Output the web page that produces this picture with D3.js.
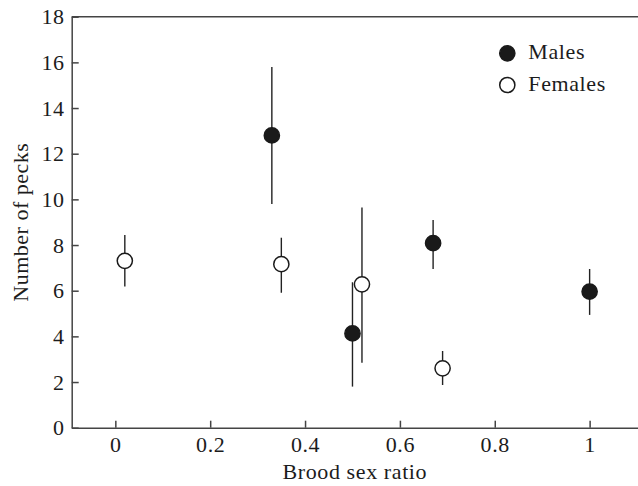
<!DOCTYPE html>
<html>
<head>
<meta charset="utf-8">
<script src="https://cdn.jsdelivr.net/npm/d3@7"></script>
<style>
  body { margin: 0; background: #fff; }
  svg { display: block; }
  text { font-family: "Liberation Serif", "Times New Roman", serif; fill: #1c1c1c; }
  .axis path, .axis line { stroke: #444; stroke-width: 1.5; }
  .axis text { font-size: 22px; letter-spacing: 0.6px; }
</style>
</head>
<body>
<svg width="638" height="486"></svg>
<script>
// values
const maleX = [0.33, 0.5, 0.67, 1.0];
const maleY = [12.8, 4.13, 8.08, 5.96];
const maleLo = [9.8, 1.8, 6.95, 4.94];
const maleHi = [15.8, 6.37, 9.1, 6.95];

const femaleX = [0.02, 0.35, 0.52, 0.69];
const femaleY = [7.31, 7.16, 6.28, 2.6];
const femaleLo = [6.18, 5.91, 2.85, 1.87];
const femaleHi = [8.44, 8.32, 9.64, 3.36];

const xTicks = [0, 0.2, 0.4, 0.6, 0.8, 1];
const yTicks = [0, 2, 4, 6, 8, 10, 12, 14, 16, 18];
const legendNames = ['Males', 'Females'];

const mLeft = 71.7, mRight = 638, mTop = 16.7, mBottom = 427.7;

const svg = d3.select('svg');

const x = d3.scaleLinear()
  .domain([-0.092, 1.102])
  .range([mLeft, mRight]);
const y = d3.scaleLinear()
  .domain([0, 18])
  .range([mBottom, mTop]);

const xAxis = d3.axisBottom(x)
  .tickValues(xTicks)
  .tickFormat(d => d === 0 || d === 1 ? String(d) : d3.format('.1f')(d))
  .tickSizeInner(-7)
  .tickSizeOuter(0)
  .tickPadding(9);
const yAxis = d3.axisLeft(y)
  .tickValues(yTicks)
  .tickFormat(d3.format('d'))
  .tickSizeInner(-7)
  .tickSizeOuter(0)
  .tickPadding(7);

// top frame line
svg.append('line')
  .attr('x1', mLeft).attr('x2', mRight)
  .attr('y1', mTop).attr('y2', mTop)
  .attr('stroke', '#444')
  .attr('stroke-width', 1.5);

svg.append('g')
  .attr('class', 'x axis')
  .attr('transform', 'translate(0,' + mBottom + ')')
  .call(xAxis);

svg.append('g')
  .attr('class', 'y axis')
  .attr('transform', 'translate(' + mLeft + ',0)')
  .call(yAxis);

svg.append('text')
  .attr('x', (mLeft + mRight) / 2)
  .attr('y', 479)
  .attr('text-anchor', 'middle')
  .attr('font-size', 22)
  .attr('letter-spacing', 0.6)
  .text('Brood sex ratio');

svg.append('text')
  .attr('transform', 'rotate(-90)')
  .attr('x', -(mTop + mBottom) / 2)
  .attr('y', 28)
  .attr('text-anchor', 'middle')
  .attr('font-size', 22)
  .attr('letter-spacing', 0.5)
  .text('Number of pecks');

const males = maleX.map((d, i) => ({ x: d, y: maleY[i], lo: maleLo[i], hi: maleHi[i] }));
const females = femaleX.map((d, i) => ({ x: d, y: femaleY[i], lo: femaleLo[i], hi: femaleHi[i] }));

function drawSeries(data, fill) {
  const g = svg.append('g');
  g.selectAll('line')
    .data(data)
    .enter()
    .append('line')
    .attr('x1', d => x(d.x))
    .attr('x2', d => x(d.x))
    .attr('y1', d => y(d.lo))
    .attr('y2', d => y(d.hi))
    .attr('stroke', '#222')
    .attr('stroke-width', 1.4);
  g.selectAll('circle')
    .data(data)
    .enter()
    .append('circle')
    .attr('cx', d => x(d.x))
    .attr('cy', d => y(d.y))
    .attr('r', 7.6)
    .attr('fill', fill)
    .attr('stroke', '#1a1a1a')
    .attr('stroke-width', 1.5);
}

drawSeries(males, '#1a1a1a');
drawSeries(females, '#fff');

// legend
const legend = svg.append('g')
  .selectAll('g')
  .data(legendNames)
  .enter()
  .append('g')
  .attr('transform', (d, i) => 'translate(507.3,' + (53.3 + i * 31.7) + ')');
legend.append('circle')
  .attr('r', 7.6)
  .attr('fill', (d, i) => i === 0 ? '#1a1a1a' : '#fff')
  .attr('stroke', '#1a1a1a')
  .attr('stroke-width', 1.5);
legend.append('text')
  .attr('x', 21)
  .attr('y', 6)
  .attr('font-size', 22)
  .attr('letter-spacing', 0.6)
  .text(d => d);
</script>
</body>
</html>
